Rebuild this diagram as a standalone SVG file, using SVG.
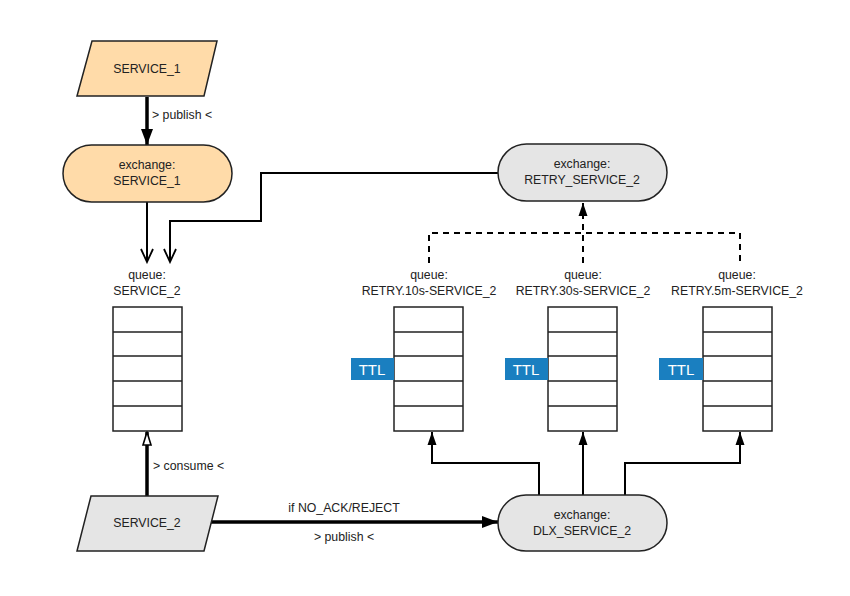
<svg xmlns="http://www.w3.org/2000/svg" width="850" height="596" viewBox="0 0 850 596">
<style>
text{font-family:"Liberation Sans",Arial,sans-serif;font-size:12.3px;fill:#222;text-anchor:middle}
.lbl{text-anchor:start}
.node{stroke:#222;stroke-width:1.5}
.peach{fill:#ffdba9}
.gray{fill:#e5e5e5}
.q{fill:#fff;stroke:#222;stroke-width:1.5}
.ttl{fill:#1a7fc0}
.ttlt{fill:#fff;font-size:15px}
.c{fill:none;stroke:#000}
.thick{stroke-width:3.5}
.thin{stroke-width:2}
.dash{stroke-width:2;stroke-dasharray:6,5}
</style>
<defs>
<marker id="big" markerUnits="userSpaceOnUse" markerWidth="18" markerHeight="14" refX="16" refY="7" orient="auto">
<path d="M0,1 L16,7 L0,13 Z" fill="#000"/>
</marker>
<marker id="small" markerUnits="userSpaceOnUse" markerWidth="14" markerHeight="10" refX="13" refY="5" orient="auto">
<path d="M0,0.5 L13,5 L0,9.5 Z" fill="#000"/>
</marker>
<marker id="vee" markerUnits="userSpaceOnUse" markerWidth="16" markerHeight="14" refX="14" refY="7" orient="auto">
<path d="M1,1 L14,7 L1,13" fill="none" stroke="#000" stroke-width="1.8"/>
</marker>
<marker id="hollow" markerUnits="userSpaceOnUse" markerWidth="16" markerHeight="12" refX="14" refY="6" orient="auto">
<path d="M1,2 L14,6 L1,10 Z" fill="#fff" stroke="#000" stroke-width="1.6"/>
</marker>
</defs>

<g id="connectors">
<path class="c thick" d="M147,97 V145" marker-end="url(#big)"/>
<path class="c thin" d="M147,202 V262" marker-end="url(#vee)"/>
<path class="c thin" d="M499,173 H261 V221 H170 V262" marker-end="url(#vee)"/>
<path class="c thick" d="M147,496 V432" marker-end="url(#hollow)"/>
<path class="c thick" d="M211,522 H498" marker-end="url(#big)"/>
<path class="c thin" d="M539,495 V463 H432 V432" marker-end="url(#small)"/>
<path class="c thin" d="M583,495 V432" marker-end="url(#small)"/>
<path class="c thin" d="M625,495 V463 H740 V432" marker-end="url(#small)"/>
<path class="c dash" d="M429,263 V233 H740 V263"/>
<path class="c dash" d="M583,263 V203" marker-end="url(#small)"/>
<text class="lbl" x="152" y="119">&gt; publish &lt;</text>
<text class="lbl" x="153" y="470">&gt; consume &lt;</text>
<text x="344" y="512">if NO_ACK/REJECT</text>
<text x="344" y="541">&gt; publish &lt;</text>
</g>

<g id="service1">
<path class="node peach" d="M92,41 H217 L204,96 H77 Z"/>
<text x="147" y="73">SERVICE_1</text>
</g>

<g id="exchange-service1">
<rect class="node peach" x="63" y="145" width="169" height="57" rx="28.5"/>
<text x="147" y="169">exchange:</text>
<text x="147" y="185">SERVICE_1</text>
</g>

<g id="queue-service2">
<text x="147" y="279">queue:</text>
<text x="147" y="295">SERVICE_2</text>
<rect class="q" x="113" y="307" width="69" height="124"/>
<path class="q" d="M113,332 H182 M113,356 H182 M113,381 H182 M113,406 H182"/>
</g>

<g id="service2">
<path class="node gray" d="M91,496 H218 L204,551 H77 Z"/>
<text x="147" y="527">SERVICE_2</text>
</g>

<g id="exchange-dlx">
<rect class="node gray" x="498" y="495" width="169" height="56" rx="28"/>
<text x="582" y="519">exchange:</text>
<text x="582" y="535">DLX_SERVICE_2</text>
</g>

<g id="exchange-retry">
<rect class="node gray" x="498" y="144" width="169" height="57" rx="28.5"/>
<text x="582" y="168">exchange:</text>
<text x="582" y="184">RETRY_SERVICE_2</text>
</g>

<g id="queue-retry-10s">
<text x="429" y="279">queue:</text>
<text x="429" y="295">RETRY.10s-SERVICE_2</text>
<rect class="q" x="394" y="307" width="69" height="124"/>
<path class="q" d="M394,332 H463 M394,356 H463 M394,381 H463 M394,406 H463"/>
<rect class="ttl" x="351" y="358" width="43" height="22"/>
<text class="ttlt" x="372" y="375">TTL</text>
</g>

<g id="queue-retry-30s">
<text x="583" y="279">queue:</text>
<text x="583" y="295">RETRY.30s-SERVICE_2</text>
<rect class="q" x="548" y="307" width="69" height="124"/>
<path class="q" d="M548,332 H617 M548,356 H617 M548,381 H617 M548,406 H617"/>
<rect class="ttl" x="505" y="358" width="43" height="22"/>
<text class="ttlt" x="526" y="375">TTL</text>
</g>

<g id="queue-retry-5m">
<text x="737" y="279">queue:</text>
<text x="737" y="295">RETRY.5m-SERVICE_2</text>
<rect class="q" x="703" y="307" width="69" height="124"/>
<path class="q" d="M703,332 H772 M703,356 H772 M703,381 H772 M703,406 H772"/>
<rect class="ttl" x="659" y="358" width="44" height="22"/>
<text class="ttlt" x="681" y="375">TTL</text>
</g>
</svg>
